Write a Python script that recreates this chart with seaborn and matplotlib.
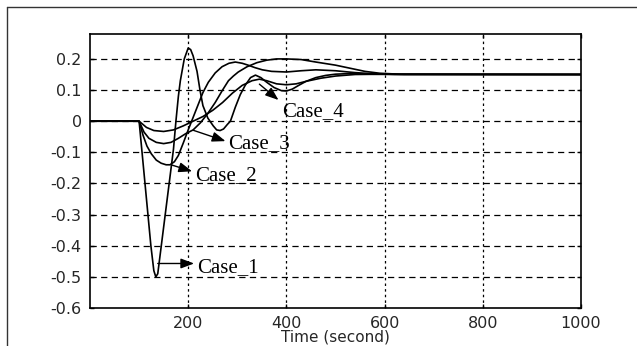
import numpy as np
import pandas as pd
import seaborn as sns
import matplotlib
matplotlib.use('Agg')
import matplotlib.pyplot as plt

# values (time in seconds, response)
t_case1 = [0, 100, 106, 112, 118, 124, 130, 134, 138, 146, 154, 162, 170, 175, 180, 184, 192, 200,
           205, 210, 218, 224, 230, 240, 251, 258, 265, 272, 280, 286, 296, 306, 316, 327, 337, 348,
           360, 375, 390, 400, 412, 425, 440, 460, 480, 500, 530, 570, 620, 1000]
y_case1 = [0, 0, -0.1, -0.2, -0.3, -0.4, -0.48, -0.5, -0.49, -0.39, -0.29, -0.19, -0.09, 0.0, 0.08,
           0.13, 0.2, 0.235, 0.23, 0.21, 0.16, 0.1, 0.05, 0.01, -0.015, -0.028, -0.03, -0.025, -0.01,
           0.0, 0.045, 0.085, 0.115, 0.14, 0.148, 0.14, 0.125, 0.108, 0.098, 0.097, 0.103, 0.115,
           0.128, 0.14, 0.147, 0.151, 0.153, 0.151, 0.15, 0.15]

t_case2 = [0, 100, 108, 116, 125, 135, 145, 155, 163, 172, 180, 190, 200, 210, 220, 230, 241, 255,
           269, 283, 296, 310, 322, 336, 351, 370, 400, 430, 460, 500, 540, 580, 640, 1000]
y_case2 = [0, 0, -0.045, -0.08, -0.105, -0.125, -0.135, -0.14, -0.14, -0.13, -0.11, -0.07, -0.028,
           0.012, 0.052, 0.092, 0.125, 0.155, 0.175, 0.186, 0.19, 0.186, 0.18, 0.172, 0.165, 0.16,
           0.158, 0.162, 0.165, 0.162, 0.156, 0.152, 0.15, 0.15]

t_case3 = [0, 100, 110, 120, 135, 150, 165, 180, 195, 210, 225, 240, 255, 270, 282, 292, 302, 320,
           340, 360, 380, 400, 430, 460, 500, 530, 560, 590, 630, 1000]
y_case3 = [0, 0, -0.035, -0.055, -0.068, -0.072, -0.068, -0.055, -0.04, -0.028, -0.005, 0.025,
           0.06, 0.1, 0.13, 0.145, 0.158, 0.175, 0.188, 0.196, 0.2, 0.2, 0.198, 0.19, 0.18, 0.17,
           0.16, 0.154, 0.151, 0.15]

t_case4 = [0, 100, 115, 130, 150, 170, 190, 210, 230, 250, 270, 290, 310, 330, 345, 360, 380, 400,
           420, 440, 470, 500, 540, 600, 1000]
y_case4 = [0, 0, -0.02, -0.03, -0.033, -0.028, -0.015, 0.0, 0.015, 0.035, 0.06, 0.09, 0.115, 0.13,
           0.135, 0.13, 0.12, 0.117, 0.12, 0.128, 0.138, 0.145, 0.15, 0.151, 0.15]

case_labels = ["Case_1", "Case_2", "Case_3", "Case_4"]
# (arrow tail on curve, arrow head / text position) in data units
arrow_tails = [(138, -0.457), (167, -0.141), (210, -0.029), (345, 0.119)]
arrow_heads = [(212, -0.457), (208, -0.161), (276, -0.064), (384, 0.068)]
text_pos = [(218, -0.47), (214, -0.174), (282, -0.071), (392, 0.032)]

x_ticks = [200, 400, 600, 800, 1000]
y_ticks = [0.2, 0.1, 0, -0.1, -0.2, -0.3, -0.4, -0.5, -0.6]

frames = []
for lab, t, y in zip(case_labels, [t_case1, t_case2, t_case3, t_case4],
                     [y_case1, y_case2, y_case3, y_case4]):
    frames.append(pd.DataFrame({"time": t, "value": y, "case": lab}))
df = pd.concat(frames, ignore_index=True)

sns.set_style("white")
plt.rcParams['font.family'] = ['DejaVu Sans']
plt.rcParams['axes.unicode_minus'] = False

fig = plt.figure(figsize=(6.37, 3.46), dpi=100)
ax = fig.add_axes([0.1413, 0.1098, 0.7707, 0.7919])

sns.lineplot(data=df, x="time", y="value", hue="case", units="case", estimator=None,
             palette=["black"] * 4, legend=False, linewidth=1.2, sort=False, ax=ax)

ax.set_xlim(0, 1000)
ax.set_ylim(-0.6, 0.28)
ax.set_xticks(x_ticks)
ax.set_yticks(y_ticks)
ax.set_xticklabels([str(v) for v in x_ticks], fontsize=11.5)
ax.set_yticklabels(["%g" % v for v in y_ticks], fontsize=11.5)
ax.tick_params(direction='in', length=3, width=1, color='black', pad=6,
               top=True, right=True, bottom=True, left=True)
ax.set_xlabel("Time (second)", fontsize=11, labelpad=-1)
ax.set_ylabel("")

# dashed horizontal grid, dotted vertical grid
for yv in y_ticks[:-1]:
    ax.axhline(yv, color='black', lw=0.9, linestyle=(0, (5, 3.5)), zorder=0)
for xv in x_ticks[:-1]:
    ax.axvline(xv, color='black', lw=0.9, linestyle=(0, (2, 2.5)), zorder=0)

for sp in ax.spines.values():
    sp.set_color('black')
    sp.set_linewidth(1.2)

for lab, tail, head, tp in zip(case_labels, arrow_tails, arrow_heads, text_pos):
    ax.annotate("", xy=head, xytext=tail,
                arrowprops=dict(arrowstyle='-|>,head_length=0.8,head_width=0.3',
                                color='black', lw=1.0, shrinkA=0, shrinkB=0))
    ax.text(tp[0], tp[1], lab, fontsize=15, family='Liberation Serif',
            ha='left', va='center', color='black')

# border of the scanned page
fig.add_artist(plt.Line2D([7 / 637, 7 / 637], [0, 1 - 7 / 346], transform=fig.transFigure,
                          color='#333333', lw=1))
fig.add_artist(plt.Line2D([7 / 637, 1], [1 - 7 / 346, 1 - 7 / 346], transform=fig.transFigure,
                          color='#333333', lw=1))

fig.savefig("out.png", dpi=100)
